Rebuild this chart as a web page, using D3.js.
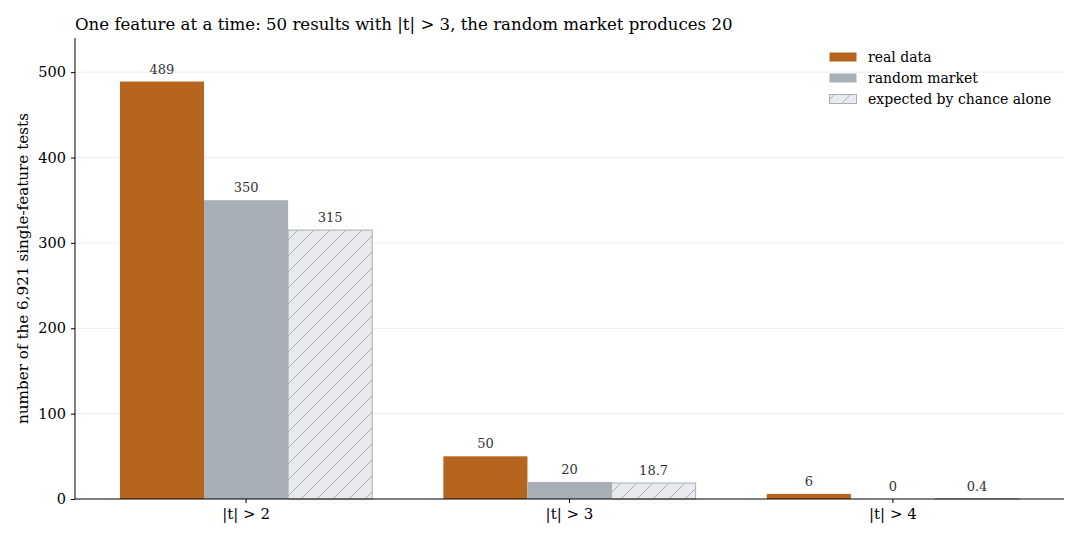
<!DOCTYPE html>
<html>
<head>
<meta charset="utf-8">
<script src="https://cdn.jsdelivr.net/npm/d3@7"></script>
<style>
  body { margin: 0; background: #fff; }
  text { font-family: "DejaVu Serif", serif; }
</style>
</head>
<body>
<div id="chart"></div>
<script>
// Data
const categories = ["|t| > 2", "|t| > 3", "|t| > 4"];
const seriesNames = ["real data", "random market", "expected by chance alone"];
const realData = [489, 50, 6];
const randomMarket = [350, 20, 0];
const expectedChance = [315, 18.7, 0.4];
const valueLabels = [["489", "50", "6"], ["350", "20", "0"], ["315", "18.7", "0.4"]];
const yTicks = [0, 100, 200, 300, 400, 500];

let width = 1080, height = 540;
let margin = { top: 38, bottom: 41, right: 16, left: 75 };

let svg = d3.select('#chart')
    .append('svg')
    .attr('width', width)
    .attr('height', height);

// hatch pattern for the "expected" bars
let defs = svg.append('defs');
let pat = defs.append('pattern')
    .attr('id', 'hatch')
    .attr('patternUnits', 'userSpaceOnUse')
    .attr('width', 16)
    .attr('height', 16);
pat.append('rect').attr('width', 16).attr('height', 16).attr('fill', '#e8eaee');
pat.append('path')
    .attr('d', 'M-4,4 L4,-4 M0,16 L16,0 M12,20 L20,12')
    .attr('stroke', '#a9afb7')
    .attr('stroke-width', 1);

let x0 = d3.scaleBand()
    .domain(categories)
    .range([margin.left, width - margin.right])
    .paddingInner(0.22)
    .paddingOuter(0.139);

let x1 = d3.scaleBand()
    .domain(seriesNames)
    .range([0, x0.bandwidth()]);

let y = d3.scaleLinear()
    .domain([0, 540])
    .range([height - margin.bottom, margin.top]);

const fills = { "real data": "#b5651d", "random market": "#a8aeb6", "expected by chance alone": "url(#hatch)" };
const strokes = { "real data": "none", "random market": "none", "expected by chance alone": "#a8aeb6" };

// gridlines
svg.append('g')
    .selectAll('line')
    .data(yTicks.slice(1))
    .enter()
    .append('line')
    .attr('x1', margin.left)
    .attr('x2', width - margin.right)
    .attr('y1', d => y(d))
    .attr('y2', d => y(d))
    .attr('stroke', '#e6e6e6')
    .attr('stroke-width', 0.8);

// bars
const rows = [realData, randomMarket, expectedChance];
const bars = [];
seriesNames.forEach((s, si) => {
    categories.forEach((c, ci) => {
        bars.push({ series: s, cat: c, value: rows[si][ci], label: valueLabels[si][ci] });
    });
});

svg.append('g')
    .selectAll('rect')
    .data(bars)
    .enter()
    .append('rect')
    .attr('x', d => x0(d.cat) + x1(d.series))
    .attr('y', d => y(d.value))
    .attr('width', x1.bandwidth())
    .attr('height', d => y(0) - y(d.value))
    .attr('fill', d => fills[d.series])
    .attr('stroke', d => strokes[d.series])
    .attr('stroke-width', 1);

// value labels
svg.append('g')
    .selectAll('text')
    .data(bars)
    .enter()
    .append('text')
    .attr('x', d => x0(d.cat) + x1(d.series) + x1.bandwidth() / 2)
    .attr('y', d => y(d.value) - 8)
    .attr('text-anchor', 'middle')
    .attr('font-size', 13)
    .attr('fill', '#333')
    .text(d => d.label);

// axes
let yAxis = svg.append('g')
    .attr('transform', `translate(${margin.left},0)`)
    .call(d3.axisLeft(y).tickValues(yTicks).tickSize(4).tickPadding(5));
yAxis.selectAll('text').attr('font-size', 14.5).attr('fill', '#000').style('font-family', '"DejaVu Serif", serif');
yAxis.select('.domain').attr('d', `M0,${margin.top}V${height - margin.bottom}`);

let xAxis = svg.append('g')
    .attr('transform', `translate(0,${height - margin.bottom})`)
    .call(d3.axisBottom(x0).tickSize(4).tickPadding(5));
xAxis.selectAll('text').attr('font-size', 15).attr('fill', '#000').style('font-family', '"DejaVu Serif", serif');
xAxis.select('.domain').attr('d', `M${margin.left},0H${width - margin.right}`);

// y-axis label
svg.append('text')
    .text('number of the 6,921 single-feature tests')
    .attr('x', 0 - (margin.top + height - margin.bottom) / 2)
    .attr('y', 28)
    .attr('text-anchor', 'middle')
    .attr('font-size', 15.2)
    .attr('transform', 'rotate(-90)');

// title
svg.append('text')
    .text('One feature at a time: 50 results with |t| > 3, the random market produces 20')
    .attr('x', margin.left)
    .attr('y', 30)
    .attr('font-size', 16.6);

// legend
const legend = svg.append('g')
    .attr('transform', 'translate(829,52)');
seriesNames.forEach((s, i) => {
    legend.append('rect')
        .attr('x', 0.5)
        .attr('y', i * 21 + 0.5)
        .attr('width', 27)
        .attr('height', 9)
        .attr('fill', fills[s])
        .attr('stroke', strokes[s]);
    legend.append('text')
        .attr('x', 39)
        .attr('y', i * 21 + 10)
        .attr('font-size', 14)
        .text(s);
});
</script>
</body>
</html>
